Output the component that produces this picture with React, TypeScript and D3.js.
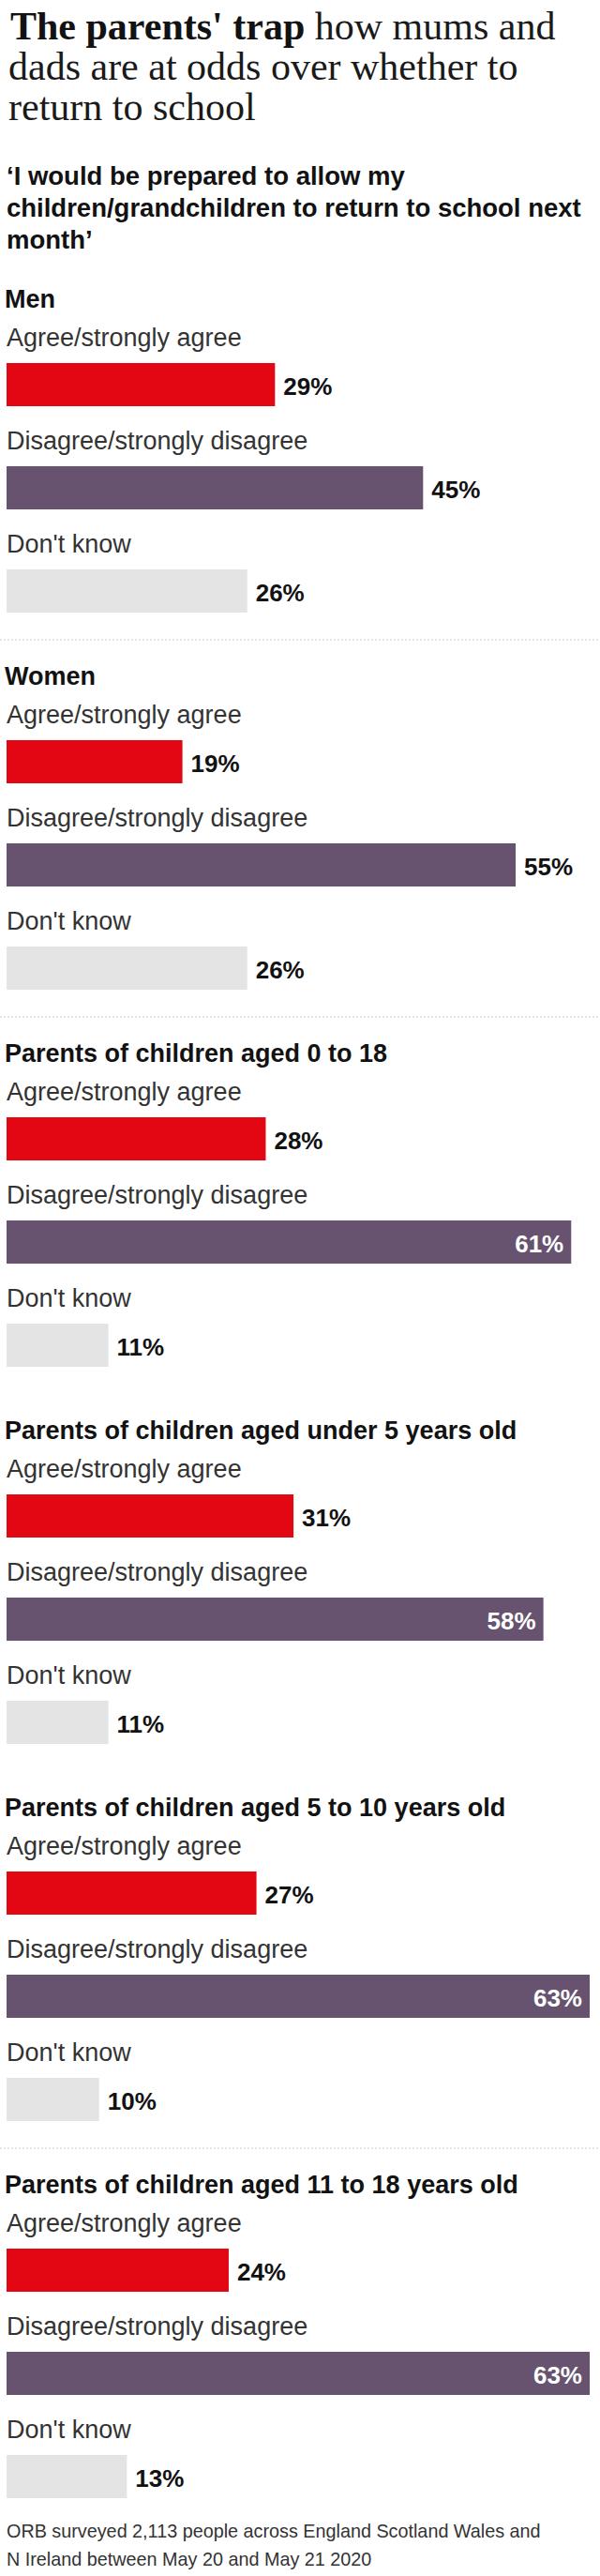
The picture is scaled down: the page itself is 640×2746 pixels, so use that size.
import React from "react";
import * as d3 from "d3";

const titleBold = "The parents' trap";
const titleLines = [" how mums and", "dads are at odds over whether to", "return to school"];
const subtitleLines = ["‘I would be prepared to allow my", "children/grandchildren to return to school next", "month’"];
const groups = [
  "Men",
  "Women",
  "Parents of children aged 0 to 18",
  "Parents of children aged under 5 years old",
  "Parents of children aged 5 to 10 years old",
  "Parents of children aged 11 to 18 years old",
];
const responses = ["Agree/strongly agree", "Disagree/strongly disagree", "Don't know"];
const agree = [29, 19, 28, 31, 27, 24];
const disagree = [45, 55, 61, 58, 63, 63];
const dontKnow = [26, 26, 11, 11, 10, 13];
const separatorAfter = [true, true, false, false, true, false];
const footerLines = [
  "ORB surveyed 2,113 people across England Scotland Wales and",
  "N Ireland between May 20 and May 21 2020",
];

const W = 640;
const H = 2746;
const colors = ["#e30613", "#675370", "#e4e4e4"];
const SANS = "'Liberation Sans', Arial, sans-serif";
const SERIF = "'Liberation Serif', 'Times New Roman', serif";

export default function App() {
  const seriesByResponse = [agree, disagree, dontKnow];
  const maxV = d3.max(seriesByResponse.flat()) as number;
  const x = d3.scaleLinear().domain([0, maxV]).range([0, 622]);
  const barX0 = 7;
  const gy = d3.scaleBand<string>().domain(groups).range([300, 300 + groups.length * 402]);
  const ry = d3.scaleBand<string>().domain(responses).range([87, 87 + responses.length * 110]);
  const barH = 46;

  return (
    <svg
      width={W}
      height={H}
      style={{ position: "absolute", left: 0, top: 0, background: "#fff" }}
    >
      <rect x={0} y={0} width={W} height={H} fill="#fff" />
      <text x={11} y={42} fontFamily={SERIF} fontSize={42} fill="#1a1a1a">
        <tspan fontWeight="bold" fill="#121212">{titleBold}</tspan>
        <tspan>{titleLines[0]}</tspan>
      </text>
      {titleLines.slice(1).map((t, i) => (
        <text key={t} x={9} y={85 + i * 43} fontFamily={SERIF} fontSize={42} fill="#1a1a1a">
          {t}
        </text>
      ))}
      {subtitleLines.map((t, i) => (
        <text key={t} x={7} y={197 + i * 34} fontFamily={SANS} fontSize={27.5} fontWeight="bold" fill="#121212">
          {t}
        </text>
      ))}
      {groups.map((g, gi) => {
        const top = gy(g) as number;
        return (
          <g key={g} transform={`translate(0,${top})`}>
            <text x={5} y={28} fontFamily={SANS} fontSize={27} fontWeight="bold" fill="#121212">
              {g}
            </text>
            {responses.map((r, ri) => {
              const v = seriesByResponse[ri][gi];
              const by = ry(r) as number;
              const w = x(v);
              const inside = w + 75 > W - barX0;
              return (
                <g key={r}>
                  <text x={7} y={by - 18} fontFamily={SANS} fontSize={27} fill="#333">
                    {r}
                  </text>
                  <rect x={barX0} y={by} width={w} height={barH} fill={colors[ri]} />
                  <text
                    x={inside ? barX0 + w - 8 : barX0 + w + 9}
                    y={by + barH / 2 + 11}
                    textAnchor={inside ? "end" : "start"}
                    fontFamily={SANS}
                    fontSize={26}
                    fontWeight="bold"
                    fill={inside ? "#fff" : "#121212"}
                  >
                    {`${v}%`}
                  </text>
                </g>
              );
            })}
            {separatorAfter[gi] && (
              <line
                x1={0}
                x2={W}
                y1={382}
                y2={382}
                stroke="#dcdcdc"
                strokeWidth={1.5}
                strokeDasharray="2,2"
              />
            )}
          </g>
        );
      })}
      {footerLines.map((t, i) => (
        <text key={t} x={7} y={2705 + i * 30} fontFamily={SANS} fontSize={19.8} fill="#333">
          {t}
        </text>
      ))}
    </svg>
  );
}
